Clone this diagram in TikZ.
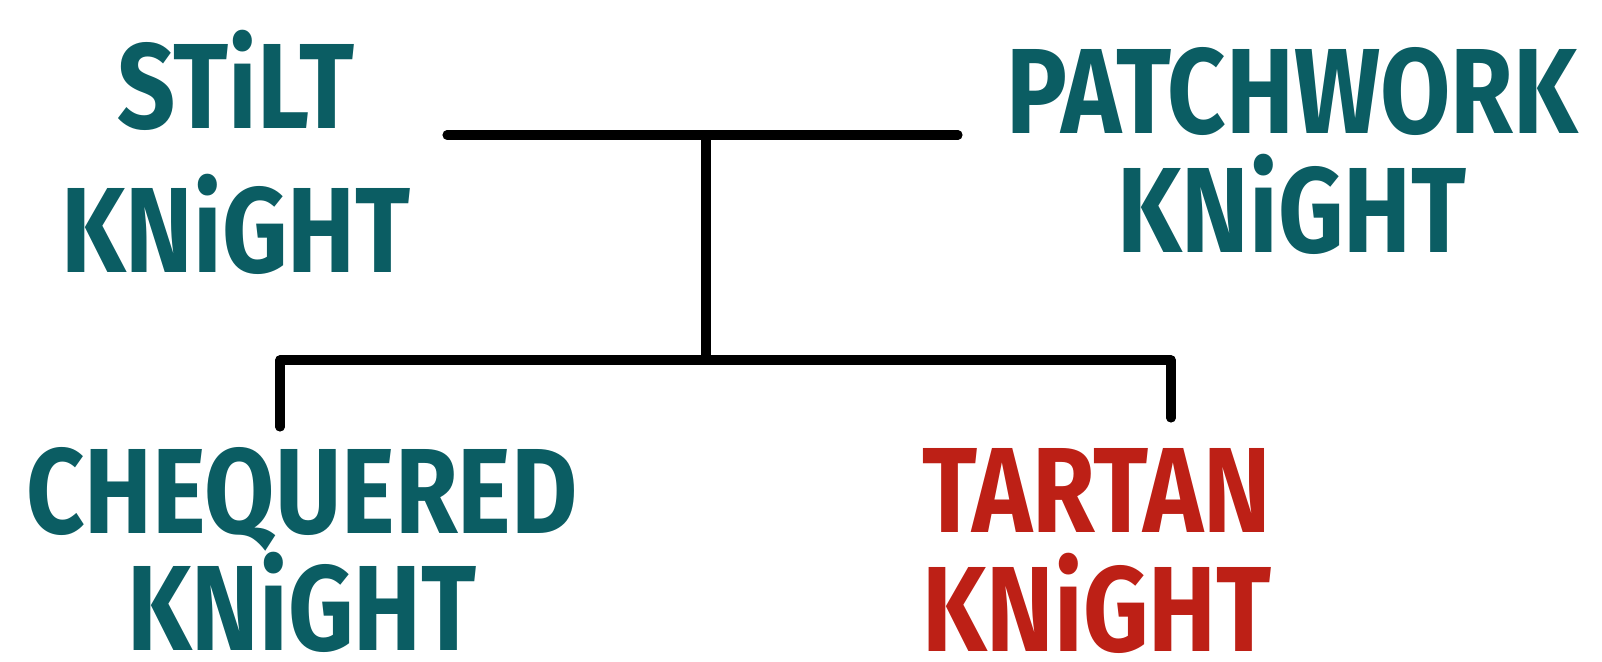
\documentclass[tikz,border=0pt]{standalone}
\usepackage{fontspec}
\usepackage{tikz}
\usepackage{xcolor}
\newfontfamily\brushfont{Fira Sans}[FakeStretch=0.84]
\definecolor{knightteal}{HTML}{0B5D63}
\definecolor{knightred}{HTML}{BD2016}

\begin{document}
\begin{tikzpicture}[
  knight/.style={inner sep=0pt, align=center, text=knightteal, font=\brushfont\bfseries\fontsize{34.5}{33}\selectfont},
  heir/.style={knight, text=knightred},
  famline/.style={line width=2.6pt, line cap=round, line join=round}
]
\useasboundingbox (0,0) rectangle (16.02,-6.61);
\node[knight] (stilt) at (2.36,-1.52) {STiLT\\[8pt]KNiGHT};
\node[knight] (patch) at (12.92,-1.51) {PATCHWORK\\[1pt]KNiGHT};
\node[knight] (cheq) at (3.02,-5.50) {CHEQUERED\\[-1pt]KNiGHT};
\node[heir] (tartan) at (10.97,-5.51) {TARTAN\\[0.6pt]KNiGHT};
\coordinate (wedl) at (4.47,-1.35);
\coordinate (wedr) at (9.58,-1.35);
\coordinate (wed) at (7.06,-1.35);
\coordinate (fork) at (7.06,-3.60);
\coordinate (cheqtop) at (2.80,-4.27);
\coordinate (tartantop) at (11.71,-4.18);
\draw[famline] (wedl) -- (wedr);
\draw[famline] (wed) -- (fork);
\draw[famline] (cheqtop) |- (fork) -| (tartantop);
\end{tikzpicture}
\end{document}
